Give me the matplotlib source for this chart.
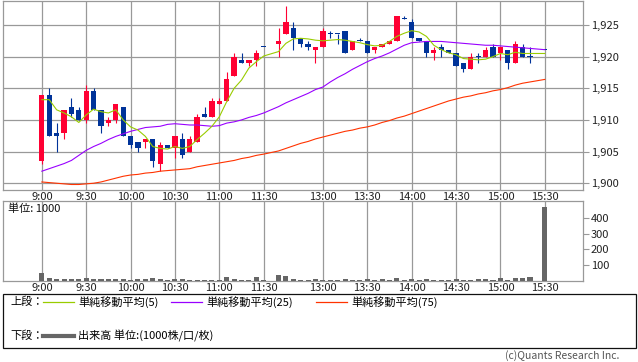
import matplotlib
matplotlib.use("Agg")
import matplotlib.pyplot as plt
from matplotlib.lines import Line2D
from matplotlib.patches import Rectangle

plt.rcParams["font.family"] = ["Noto Sans CJK JP", "DejaVu Sans"]

# ---- data (5-minute bars; slot 31 = lunch gap, slot 67 = closing auction gap) ----
slots = [0, 1, 2, 3, 4, 5, 6, 7, 8, 9, 10, 11, 12, 13, 14, 15, 16, 17, 18, 19,
         20, 21, 22, 23, 24, 25, 26, 27, 28, 29, 30,
         32, 33, 34, 35, 36, 37, 38, 39, 40, 41, 42, 43, 44, 45, 46, 47, 48, 49,
         50, 51, 52, 53, 54, 55, 56, 57, 58, 59, 60, 61, 62, 63, 64, 65, 66, 68]

opens = [1903.5, 1914.0, 1908.0, 1908.0, 1912.0, 1911.5, 1910.0, 1914.5, 1911.5, 1909.5,
         1910.0, 1912.0, 1907.5, 1906.5, 1906.5, 1907.0, 1903.0, 1906.0, 1905.5, 1907.0,
         1905.0, 1906.5, 1911.0, 1910.5, 1912.5, 1913.0, 1917.0, 1919.5, 1919.0, 1919.5,
         1921.5,
         1922.0, 1923.5, 1924.5, 1923.0, 1922.0, 1921.0, 1921.5, 1923.5, 1923.5, 1924.0,
         1921.0, 1922.5, 1922.5, 1921.0, 1921.5, 1922.0, 1922.5, 1926.0, 1925.5, 1923.0,
         1922.5, 1920.5, 1921.5, 1921.0, 1920.5, 1919.0, 1918.0, 1920.0, 1920.0, 1921.5,
         1920.5, 1921.0, 1919.0, 1921.5, 1920.0, 1921.0]
highs = [1914.0, 1915.0, 1909.5, 1911.5, 1913.5, 1912.0, 1915.5, 1915.0, 1911.5, 1910.5,
         1912.5, 1912.0, 1907.5, 1906.5, 1907.0, 1907.0, 1906.5, 1906.0, 1907.5, 1908.0,
         1907.5, 1911.0, 1912.0, 1913.5, 1913.5, 1917.5, 1920.5, 1920.5, 1919.5, 1921.0,
         1921.5,
         1924.5, 1928.0, 1925.5, 1923.0, 1922.5, 1921.5, 1924.5, 1924.0, 1923.5, 1924.0,
         1922.5, 1923.0, 1922.5, 1921.5, 1922.0, 1922.5, 1926.5, 1926.5, 1926.0, 1923.0,
         1922.5, 1921.5, 1922.0, 1921.0, 1920.5, 1919.0, 1920.5, 1920.5, 1921.5, 1922.0,
         1921.5, 1921.0, 1922.5, 1922.0, 1921.5, 1921.0]
lows = [1903.0, 1907.5, 1905.0, 1907.0, 1910.5, 1910.0, 1909.5, 1911.5, 1908.0, 1909.0,
        1909.5, 1907.5, 1905.5, 1905.0, 1905.5, 1902.5, 1902.0, 1905.5, 1904.0, 1904.0,
        1905.0, 1906.5, 1910.5, 1910.5, 1912.5, 1913.0, 1917.0, 1919.0, 1918.5, 1918.5,
        1921.5,
        1920.0, 1923.5, 1921.0, 1921.5, 1921.0, 1919.0, 1921.5, 1923.0, 1922.0, 1920.5,
        1921.0, 1922.5, 1920.5, 1920.5, 1921.5, 1922.0, 1922.5, 1926.0, 1923.0, 1922.5,
        1920.0, 1919.5, 1920.0, 1920.5, 1918.5, 1917.5, 1918.0, 1919.0, 1920.0, 1920.0,
        1919.5, 1918.0, 1919.0, 1920.0, 1919.0, 1921.0]
closes = [1914.0, 1907.5, 1907.5, 1911.5, 1911.0, 1910.0, 1914.5, 1911.5, 1909.0, 1910.0,
          1912.5, 1907.5, 1906.0, 1905.5, 1907.0, 1903.5, 1906.0, 1905.5, 1907.5, 1904.5,
          1907.0, 1910.5, 1910.5, 1913.0, 1913.0, 1916.5, 1920.0, 1919.0, 1919.5, 1920.5,
          1921.5,
          1922.5, 1925.5, 1923.0, 1922.0, 1921.5, 1921.5, 1924.0, 1923.5, 1923.5, 1920.5,
          1922.5, 1922.5, 1920.5, 1921.5, 1922.0, 1922.5, 1926.5, 1926.0, 1923.0, 1922.5,
          1920.5, 1921.0, 1921.0, 1920.5, 1918.5, 1918.0, 1920.0, 1920.0, 1921.0, 1920.0,
          1921.5, 1919.0, 1922.0, 1920.0, 1920.0, 1921.0]

sma5 = [1913.2, 1913.2, 1911.6, 1911.1, 1910.5, 1909.6, 1910.8, 1911.7, 1911.3, 1911.1,
        1911.6, 1910.0, 1908.9, 1908.4, 1907.4, 1905.8, 1905.5, 1905.4, 1905.8, 1905.5,
        1905.8, 1906.9, 1907.9, 1909.0, 1910.5, 1912.9, 1915.0, 1916.3, 1918.2, 1919.2,
        1920.1,
        1920.8, 1922.1, 1922.8, 1922.9, 1922.8, 1922.6, 1922.5, 1922.6, 1922.7, 1922.6,
        1922.4, 1922.2, 1921.9, 1921.7, 1921.8, 1922.4, 1923.2, 1923.7, 1924.1, 1923.9,
        1923.2, 1921.8, 1921.1, 1920.6, 1920.3, 1919.7, 1919.6, 1919.5, 1919.6, 1920.0,
        1920.5, 1920.3, 1920.7, 1920.5, 1920.5, 1920.5]
sma25 = [1901.9, 1902.3, 1902.7, 1903.1, 1903.6, 1904.4, 1905.2, 1905.8, 1906.3, 1906.9,
         1907.4, 1907.8, 1908.2, 1908.5, 1908.8, 1908.9, 1909.0, 1909.3, 1909.4, 1909.3,
         1909.2, 1909.2, 1909.1, 1909.0, 1909.1, 1909.5, 1909.7, 1910.0, 1910.4, 1910.7,
         1911.1,
         1912.1, 1912.7, 1913.2, 1913.7, 1914.2, 1914.8, 1915.2, 1916.0, 1916.7, 1917.3,
         1918.0, 1918.6, 1919.2, 1919.7, 1920.1, 1920.6, 1921.2, 1921.8, 1922.2, 1922.3,
         1922.4, 1922.4, 1922.4, 1922.3, 1922.2, 1922.1, 1922.0, 1921.9, 1921.8, 1921.8,
         1921.7, 1921.6, 1921.5, 1921.4, 1921.3, 1921.1]
sma75 = [1900.2, 1900.1, 1900.0, 1899.9, 1899.8, 1899.8, 1899.9, 1900.0, 1900.2, 1900.5,
         1900.8, 1901.1, 1901.3, 1901.4, 1901.6, 1901.7, 1901.9, 1902.0, 1902.1, 1902.2,
         1902.3, 1902.6, 1902.8, 1903.0, 1903.2, 1903.4, 1903.6, 1903.9, 1904.1, 1904.4,
         1904.6,
         1905.1, 1905.5, 1905.9, 1906.3, 1906.6, 1907.0, 1907.3, 1907.6, 1907.9, 1908.2,
         1908.4, 1908.7, 1908.9, 1909.2, 1909.6, 1909.9, 1910.3, 1910.6, 1911.0, 1911.4,
         1911.8, 1912.2, 1912.6, 1913.0, 1913.3, 1913.6, 1913.8, 1914.1, 1914.3, 1914.6,
         1914.8, 1915.1, 1915.5, 1915.8, 1916.0, 1916.4]

volume = [50, 18, 12, 12, 12, 12, 18, 12, 12, 12, 12, 12, 4, 12, 12, 18, 12, 4, 12, 12,
          5, 4, 4, 4, 5, 25, 12, 4, 5, 25, 8,
          37, 30, 12, 5, 4, 12, 5, 4, 4, 12, 5, 4, 12, 5, 12, 5, 18, 4, 12, 5,
          12, 5, 4, 5, 12, 4, 5, 12, 12, 5, 18, 5, 18, 18, 25, 465]

tick_slots = [0, 6, 12, 18, 24, 30, 38, 44, 50, 56, 62, 68]
tick_labels = ["9:00", "9:30", "10:00", "10:30", "11:00", "11:30",
               "13:00", "13:30", "14:00", "14:30", "15:00", "15:30"]
price_ticks = [1900, 1905, 1910, 1915, 1920, 1925]
vol_ticks = [100, 200, 300, 400]

# ---- styling ----
UP = "#ff0033"
DOWN = "#003399"
C5 = "#99cc00"
C25 = "#9900ff"
C75 = "#ff3300"
GRID = "#999999"
VOL = "#666666"

W, H = 638, 362


def px_rect(x0, y0, x1, y1):
    return [x0 / W, 1 - y1 / H, (x1 - x0) / W, (y1 - y0) / H]


def style_axes(ax):
    for sp in ax.spines.values():
        sp.set_color(GRID)
        sp.set_linewidth(0.9)
    ax.yaxis.tick_right()
    ax.tick_params(axis="y", length=4, width=0.8, color=GRID, pad=2,
                   labelsize=8, labelcolor="#222222")
    ax.tick_params(axis="x", length=0, pad=1.5, labelsize=8,
                   labelcolor="#222222")
    ax.set_xticks(tick_slots)
    ax.set_xticklabels(tick_labels)
    ax.set_xlim(-5.25, 73.1)
    for s in tick_slots:
        ax.axvline(s, color=GRID, lw=0.9, zorder=0)


fig = plt.figure(figsize=(W / 100, H / 100), dpi=100)

# ---- price panel ----
ax = fig.add_axes(px_rect(3, 0.5, 582.5, 190))
style_axes(ax)
ax.set_ylim(1898.93, 1928.87)
ax.set_yticks(price_ticks)
ax.set_yticklabels([f"{v:,}" for v in price_ticks])
for v in price_ticks:
    ax.axhline(v, color=GRID, lw=0.9, zorder=0)

body_w = 0.72
for s, o, h, l, c in zip(slots, opens, highs, lows, closes):
    col = UP if c > o else DOWN
    ax.vlines(s, l, h, color=col, lw=0.8, zorder=2)
    bottom = min(o, c)
    height = max(abs(c - o), 0.16)
    ax.bar(s, height, bottom=bottom, width=body_w, color=col,
           linewidth=0, zorder=3)

ax.plot(slots, sma75, color=C75, lw=0.8, zorder=4)
ax.plot(slots, sma25, color=C25, lw=0.8, zorder=4)
ax.plot(slots, sma5, color=C5, lw=0.8, zorder=4)

# ---- volume panel ----
axv = fig.add_axes(px_rect(3, 201, 582.5, 281))
style_axes(axv)
axv.set_ylim(0, 506)
axv.set_yticks(vol_ticks)
axv.bar(slots, volume, width=0.68, color=VOL, linewidth=0, zorder=3)
axv.text(0.008, 0.9, "単位: 1000", transform=axv.transAxes, fontsize=8,
         ha="left", va="center", color="#111111")

# ---- legend box ----
fig.patches.append(Rectangle((3 / W, 1 - 348 / H), 633 / W, 54 / H,
                             transform=fig.transFigure, fill=False,
                             edgecolor="#111111", lw=0.9))


def fx(x):
    return x / W


def fy(y):
    return 1 - y / H


row1, row2 = 302, 336
fig.text(fx(10), fy(row1), "上段：", fontsize=8, va="center", ha="left")
fig.text(fx(10), fy(row2), "下段：", fontsize=8, va="center", ha="left")
legend_items = [(43, C5, "単純移動平均(5)"), (171, C25, "単純移動平均(25)"),
                (316, C75, "単純移動平均(75)")]
for x0, col, label in legend_items:
    fig.add_artist(Line2D([fx(x0), fx(x0 + 31)], [fy(row1), fy(row1)],
                          color=col, lw=0.9, transform=fig.transFigure))
    fig.text(fx(x0 + 35), fy(row1), label, fontsize=8, va="center", ha="left")
fig.add_artist(Line2D([fx(43), fx(74)], [fy(row2), fy(row2)],
                      color=VOL, lw=3.0, transform=fig.transFigure))
fig.text(fx(78), fy(row2), "出来高 単位:(1000株/口/枚)", fontsize=8,
         va="center", ha="left")

fig.text(fx(619), fy(356), "(c)Quants Research Inc.", fontsize=7.5,
         ha="right", va="center", color="#555555")

fig.savefig("out.png", dpi=100)
